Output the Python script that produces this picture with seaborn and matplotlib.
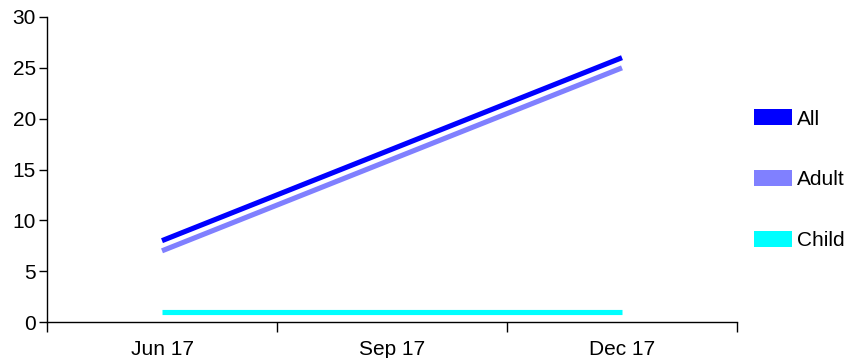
import pandas as pd
import matplotlib
matplotlib.use("Agg")
import matplotlib.pyplot as plt
import seaborn as sns
from matplotlib.patches import Patch

# chart data
months = ["Jun 17", "Sep 17", "Dec 17"]
all_vals = [8, 17, 26]
adult_vals = [7, 16, 25]
child_vals = [1, 1, 1]
series = ["All", "Adult", "Child"]
colors = ["#0000ff", "#8080ff", "#00ffff"]

rows = []
for name, vals in zip(series, [all_vals, adult_vals, child_vals]):
    for i, (m, v) in enumerate(zip(months, vals)):
        rows.append({"pos": i, "month": m, "value": v, "series": name})
df = pd.DataFrame(rows)

sns.set_style("white")
plt.rcParams["font.family"] = ["Liberation Sans", "DejaVu Sans"]
plt.rcParams["text.color"] = "black"
plt.rcParams["xtick.color"] = "black"
plt.rcParams["ytick.color"] = "black"

fig = plt.figure(figsize=(8.47, 3.58), dpi=100)
ax = fig.add_axes([47 / 847, 36 / 358, 690 / 847, 305 / 358])

sns.lineplot(data=df, x="pos", y="value", hue="series", hue_order=series,
             palette=colors, linewidth=3.7, legend=False, ax=ax,
             solid_capstyle="butt")

ax.set_xlim(-0.5, 2.5)
ax.set_ylim(0, 30)
ax.set_yticks(range(0, 31, 5))
ax.set_xticks([-0.5, 0.5, 1.5, 2.5])
ax.set_xticklabels([])
ax.set_xticks(range(len(months)), minor=True)
ax.set_xticklabels(months, minor=True)
ax.tick_params(axis="x", which="major", bottom=True, length=7.5, width=1,
               color="black", direction="out")
ax.tick_params(axis="x", which="minor", bottom=True, length=0, pad=13,
               labelsize=15, labelcolor="black")
ax.tick_params(axis="y", left=True, length=6, width=1, color="black", pad=2,
               labelsize=15, labelcolor="black")
ax.set_xlabel("")
ax.set_ylabel("")
for s in ["top", "right"]:
    ax.spines[s].set_visible(False)
for s in ["left", "bottom"]:
    ax.spines[s].set_color("black")
    ax.spines[s].set_linewidth(1)

handles = [Patch(facecolor=c, edgecolor="none", label=n) for n, c in zip(series, colors)]
ax.legend(handles=handles, loc="center left", bbox_to_anchor=(1.025, 0.466),
          frameon=False, fontsize=15, handlelength=1.8, handleheight=0.8,
          handletextpad=0.25, labelspacing=2.0, borderaxespad=0, borderpad=0)

fig.savefig("out.png", dpi=100)
